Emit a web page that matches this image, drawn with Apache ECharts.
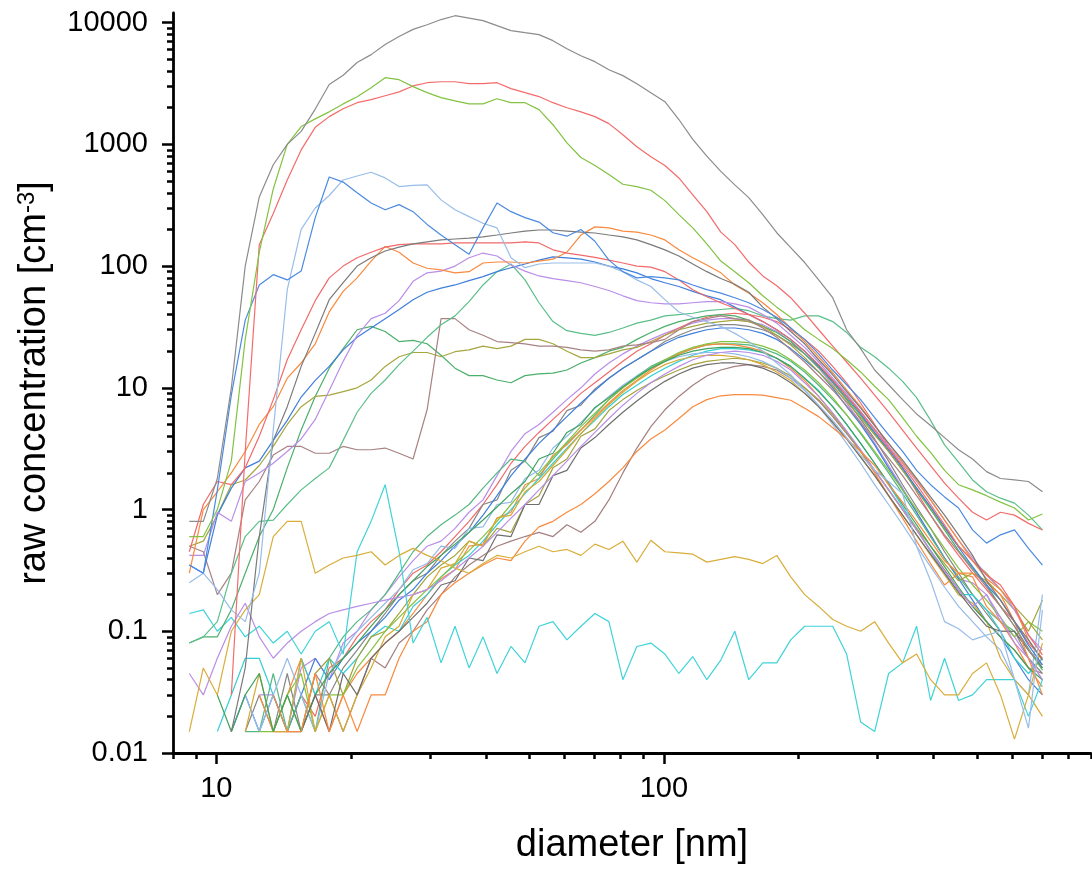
<!DOCTYPE html>
<html><head><meta charset="utf-8">
<script src="https://cdn.jsdelivr.net/npm/echarts@6/dist/echarts.min.js"></script>
<style>html,body{margin:0;padding:0;background:#fff}#c{width:1092px;height:873px}</style>
</head><body><div id="c"></div>
<script>
// diameter bins [nm]
const diameters = [8.70,9.35,10.05,10.80,11.60,12.47,13.40,14.40,15.47,16.63,17.87,19.20,20.63,22.17,23.83,25.60,27.51,29.57,31.77,34.14,36.69,39.43,42.37,45.53,48.93,52.58,56.50,60.71,65.24,70.11,75.34,80.96,87.0,93.5,100.5,108.0,116.0,124.7,134.0,144.0,154.7,166.3,178.7,192.0,206.3,221.7,238.3,256.0,275.1,295.7,317.7,341.4,366.9,394.3,423.7,455.3,489.3,525.8,565.0,607.1,652.4,701.1];
const _ = null;
const xMajorTicks = [10, 100];
const yMajorTicks = [0.01, 0.1, 1, 10, 100, 1000, 10000];

const s1 = [0.8,0.8,1.8,10,100,370,680,1000,1280,1950, 3100,3700,4700,5460,6600,7700,8800,9600,10600,11400, 10900,10400,9450,8600,8270,7970,7110,6110,5350,4780, 4100,3670,3150,2660,2240,1600,1100,800,600,465, 365,265,188,142,107,77,55,30,21,14, 10.6,8.0,6.1,4.9,3.9,3.1,2.6,2.05,1.8,1.75, 1.7,1.4];
const s2 = [0.6,0.6,1.0,2.5,25,130,430,1000,1400,1620, 1850,2150,2460,2920,3530,3400,2980,2660,2420,2280, 2150,2150,2370,2200,2200,1930,1450,1030,780,670, 565,470,450,420,345,265,206,152,110,90, 73,57,46,38,30,25,21,17,13.5,10.3, 8,5.7,4.0,2.95,2.1,1.6,1.45,1.3,1.15,1.03, 0.82,0.92];
const s3 = [_,_,_,0.03,3,150,270,510,900,1380, 1690,1960,2200,2330,2510,2700,3020,3210,3270,3270, 3150,3150,3210,2870,2660,2470,2200,2000,1850,1690, 1480,1200,955,790,670,530,385,280,190,150, 108,83,69,55,41,30,22,16.3,12,8.7, 6.3,4.5,3.2,2.3,1.65,1.24,0.95,0.82,0.95,0.9, 0.77,0.68];
const s4 = [0.35,0.3,1.45,8.7,36,70,85,77,91,250, 540,490,400,330,290,320,280,220,180,150, 125,206,330,280,250,230,188,176,200,160, 112,90,80,82,80,77,70,64,60,55, 50,44,38,31,25,19,14,10.6,8,5.7, 4.1,3.0,2.1,1.6,1.27,1.03,0.68,0.53,0.62,0.68, 0.48,0.35];
const s5 = [0.25,0.3,0.22,0.15,0.12,0.3,4.5,64,200,300, 380,510,550,590,530,450,460,465,350,290, 255,225,206,117,97,104,106,106,106,106, 100,90,77,68,53,42,38,35,32,28, 24,20,16,12.8,9.6,7.2,5.4,3.9,2.8,2.1, 1.7,1.35,0.5,0.26,0.12,0.105,0.085,0.093,0.1,0.04, 0.016,0.15];
const s6 = [_,_,_,0.015,0.05,0.6,3.7,7,15,28, 53,73,100,117,133,143,152,158,164,167, 170,174,180,187,194,198,198,194,190,187, 180,174,164,150,136,121,104,90,79,71, 61,46,37,29,23,17,12.8,9.3,6.8,4.9, 3.5,2.55,1.8,1.27,0.9,0.62,0.42,0.26,0.18,0.12, 0.085,0.058];
const s7 = [0.45,1.1,1.7,1.6,2.2,4,8,17,30,52, 80,100,117,130,143,150,152,152,152,155, 155,155,155,155,158,155,136,128,123,118, 112,106,100,98,90,77,64,56,50,45, 40,35,30,25,20,15.5,11.6,8.6,6.3,4.5, 3.2,2.3,1.6,1.1,0.75,0.5,0.38,0.29,0.24,0.16, 0.093,0.064];
const s8 = [0.3,1.0,1.4,2.0,3.0,5,7,12,16,23, 42,62,80,110,145,130,106,96,93,88, 90,106,108,108,106,110,114,130,180,210, 206,194,190,180,164,136,117,102,88,70, 60,50,40,31,24,18,13.3,9.6,7.0,4.9, 3.5,2.45,1.75,1.2,0.82,0.56,0.38,0.27,0.22,0.16, 0.085,0.058];
const s9 = [0.42,0.42,0.95,0.8,1.7,2.0,2.4,3.0,3.8,5.5, 9.5,16.5,27,37,41,52,75,88,91,100, 117,128,121,102,91,83,79,76,73,68, 63,57,52,50,49,49,50,51,51,49, 46,40,34,27,21.5,16.3,12,8.9,6.4,4.6, 3.3,2.4,1.7,1.2,0.82,0.56,0.4,0.29,0.22,0.15, 0.093,0.07];
const s10 = [0.35,0.3,0.9,1.5,2.2,2.5,3.7,5.4,8.4,11.5, 15,20.5,26,31,37,44,53,61,66,70, 76,82,90,97,104,112,119,117,114,108, 100,95,88,79,73,68,62,57,53,46, 40,35,30,25,20,15.2,11.4,8.5,6.1,4.3, 3.1,2.2,1.5,1.05,0.72,0.49,0.34,0.24,0.18,0.12, 0.077,0.053];
const s11 = [0.08,0.09,0.12,0.3,0.6,0.8,0.82,1.1,1.45,1.8, 2.2,3.7,6.3,9,11.6,15.5,20,26,33,39, 51,70,90,104,77,50,35,29.5,28,27, 28.5,31,34,36,39,40,41,43,44,45, 43,39,37,36,39,39,35,28.5,21.5,18, 14.5,11.3,8.3,5.4,3.4,2.45,1.75,1.4,1.24,1.13, 0.9,0.68];
const s12 = [0.5,0.45,0.2,0.3,1.2,1.7,2.8,3.3,3.3,2.9, 2.9,3.3,3.1,3.1,3.2,2.9,2.6,6.6,37,37, 30,27,24,23.5,23,22,22,21.5,20.5,20, 20.5,22,22.5,23.5,25,30,35,37,39,37, 36,31,26,20.5,16.3,12.5,9.6,7.1,5.2,3.7, 2.65,1.9,1.3,0.9,0.62,0.45,0.32,0.23,0.16,0.11, 0.07,0.053];
const s13 = [0.5,0.55,0.9,1.6,1.75,2.3,3.3,5,7,8.5, 8.7,9.3,10,11.6,15,18,19.5,19.5,18,19.8, 20.5,22,21,22,25,25,23,20,17.7,17.7, 19,20.5,21.5,24,27,30,32,34,35,36, 35,32,27,22.5,17.7,13.5,10.3,7.7,5.7,4.1, 3,2.1,1.5,1.03,0.7,0.5,0.38,0.3,0.22,0.16, 0.12,0.085];
const s14 = [0.08,0.09,0.09,0.15,0.3,0.6,1.0,2.2,4.5,8.5, 14.5,21,30,32,29,24,24.5,23,18.5,14.5, 12.6,12.6,11.6,11,12.6,13,13.2,14,16,17.7, 20,21.5,25,28.5,32,35,37,39,40,39, 36,32,28.5,24,19,14.7,11.2,8.2,5.9,4.2, 3,2.1,1.45,1.0,0.68,0.46,0.33,0.24,0.16,0.11, 0.072,0.048];
const s15 = [_,_,_,_,_,_,0.03,0.015,0.015,0.045, 0.015,0.03,0.015,0.03,0.03,0.06,0.1,0.12,0.2,0.25, 0.3,0.35,0.4,0.38,0.55,0.72,0.8,0.95,1.1,1.35, 1.7,2.2,3.0,3.8,4.5,5.6,7.0,8.0,8.6,8.8, 8.8,8.7,8.3,7.9,6.8,5.8,4.7,3.8,3.0,2.3, 1.6,1.15,0.8,0.55,0.38,0.3,0.3,0.25,0.2,0.12, 0.06,0.03];
const s16 = [0.14,0.15,0.1,0.13,0.09,0.11,0.08,0.1,0.065,0.1, 0.12,0.065,0.45,0.8,1.6,0.45,0.08,0.13,0.055,0.11, 0.05,0.09,0.045,0.075,0.055,0.11,0.12,0.085,0.11,0.14, 0.12,0.04,0.075,0.08,0.065,0.045,0.062,0.04,0.058,0.1, 0.04,0.055,0.055,0.085,0.11,0.11,0.11,0.065,0.018,0.015, 0.045,0.055,0.11,0.027,0.06,0.027,0.03,0.04,0.04,0.04, 0.02,0.04];
const s17 = [0.015,0.05,0.03,0.1,0.15,0.2,0.6,0.8,0.8,0.3, 0.35,0.4,0.42,0.45,0.35,0.42,0.48,0.42,0.38,0.33, 0.3,0.36,0.42,0.4,0.45,0.5,0.45,0.47,0.42,0.52, 0.47,0.55,0.37,0.56,0.45,0.44,0.43,0.37,0.39,0.41, 0.39,0.36,0.42,0.28,0.2,0.16,0.125,0.11,0.1,0.12, 0.08,0.055,0.065,0.04,0.03,0.03,0.045,0.055,0.03,0.013, 0.03,0.08];
const b1 = [_,_,_,_,_,0.03,0.03,0.015,0.05,0.06, 0.04,0.08,0.1,0.15,0.2,0.28,0.38,0.5,0.55,0.7, 0.95,1.2,1.9,3.0,4.2,5.0,6.3,8.0,10,13, 16,19,22,25,28,31,34,36,37,37, 35,33,29,24,19,14.5,10.5,7.5,5.2,3.5, 2.3,1.5,0.95,0.6,0.4,0.27,0.25,0.2,0.12,0.09, 0.06,0.04];
const b2 = [_,_,_,_,_,_,0.015,0.015,0.03,0.02, 0.05,0.06,0.09,0.12,0.15,0.22,0.3,0.35,0.45,0.6, 0.8,1.1,1.6,2.4,3.3,4.3,5.5,7.0,9.0,11, 13.5,16.5,20,23,27,31,35,38,40,41, 40,38,35,30,25,20,15,11,7.5,5, 3.3,2.2,1.4,0.9,0.6,0.42,0.3,0.22,0.16,0.12, 0.08,0.06];
const b3 = [_,_,_,_,0.015,0.03,0.015,0.045,0.015,0.03, 0.03,0.05,0.07,0.1,0.14,0.2,0.26,0.3,0.42,0.55, 0.7,1.1,1.2,2.1,2.5,3.9,4.4,6.5,7.2,9.8, 12,14.5,17,20,24,27,30,32,33,33, 32,30,27,23,19,15,11,8,5.5,3.8, 2.5,1.6,1.05,0.7,0.45,0.3,0.2,0.14,0.1,0.1, 0.06,0.045];
const b4 = [_,_,_,0.015,0.03,0.015,0.03,0.015,0.03,0.06, 0.04,0.06,0.08,0.1,0.13,0.18,0.22,0.3,0.38,0.5, 0.65,0.9,1.3,1.9,2.6,3.5,4.5,5.8,7.5,9.5, 12,14.5,17,20,23,26,28,30,31,31, 30,28,25,21,17,13.5,10,7,5,3.4, 2.2,1.45,0.95,0.62,0.4,0.27,0.18,0.12,0.09,0.06, 0.04,0.03];
const b5 = [_,_,_,_,0.015,0.015,0.045,0.015,0.03,0.015, 0.06,0.09,0.12,0.15,0.2,0.3,0.45,0.6,0.75,0.9, 1.1,1.5,2.0,2.6,2.5,1.9,2.6,3.5,4.5,6, 8,10,12.5,15,17,19,21,22.5,23,23, 22.5,21,19,16.5,13.5,10.5,8,6,4.2,2.9, 2.0,1.35,0.9,0.6,0.4,0.28,0.2,0.15,0.12,0.1, 0.07,0.05];
const b6 = [_,_,_,_,_,0.03,0.015,0.03,0.06,0.03, 0.015,0.03,0.045,0.06,0.08,0.1,0.14,0.2,0.27,0.32, 0.5,0.52,0.85,0.95,1.6,1.8,2.8,3.4,4.5,5.8, 7.5,9.5,11.5,14,16.5,19,21,22.5,23,22.5, 21.5,20,17.5,14.5,11.5,8.5,6.2,4.4,3.0,2.0, 1.3,0.85,0.55,0.36,0.24,0.3,0.28,0.16,0.12,0.08, 0.05,0.035];
const b7 = [_,_,0.015,0.03,0.06,0.06,0.03,0.015,0.06,0.03, 0.06,0.045,0.06,0.09,0.11,0.1,0.16,0.2,0.28,0.35, 0.42,0.55,0.75,1.0,1.35,1.8,2.4,3.2,4.2,5.4, 7.0,8.8,10.5,12.5,14.5,16.5,18.5,20,21,21, 20.5,19.5,17.5,15,12,9.5,7,5,3.5,2.4, 1.6,1.05,0.7,0.45,0.3,0.2,0.2,0.15,0.1,0.06, 0.045,0.06];
const b8 = [_,_,_,_,_,_,_,_,0.015,0.045, 0.03,0.015,0.03,0.06,0.05,0.08,0.1,0.15,0.2,0.28, 0.35,0.42,0.5,0.55,0.6,0.65,0.6,0.75,0.65,0.8, 1.2,2.0,3.2,4.8,6.6,8.5,10.5,12.5,14,15, 15.5,15,14,12,10,7.8,5.8,4.2,3.0,2.1, 1.45,1.0,0.68,0.46,0.32,0.22,0.16,0.12,0.09,0.07, 0.05,0.045];
const b9 = [_,_,_,_,_,_,0.015,0.03,0.015,0.045, 0.06,0.03,0.06,0.09,0.1,0.14,0.2,0.28,0.35,0.42, 0.55,0.5,0.7,0.65,1.1,1.3,2.2,2.6,4.0,4.6, 6.5,8.0,9.5,11,12.5,14,15.5,16.5,17,17.5, 17,16,14.5,12.5,10,8,6,4.3,3.0,2.1, 1.45,1.0,0.7,0.5,0.36,0.26,0.3,0.26,0.2,0.15, 0.1,0.18];
const b10 = [_,_,_,0.015,0.03,0.015,0.03,0.06,0.03,0.015, 0.045,0.07,0.1,0.13,0.17,0.22,0.32,0.36,0.5,0.48, 0.7,0.72,1.1,1.15,1.8,2.1,3.2,4.0,5.2,6.8, 8.5,10.5,12.5,14.5,16.5,18,19,19.5,19.5,19, 18,16.5,14.5,12,9.5,7,5,3.5,2.4,1.6, 1.1,0.75,0.5,0.34,0.23,0.16,0.12,0.09,0.07,0.04, 0.03,0.2];
const b11 = [_,_,_,_,_,0.015,0.015,0.03,0.045,0.015, 0.03,0.03,0.05,0.07,0.1,0.13,0.17,0.22,0.28,0.36, 0.46,0.6,0.8,1.1,1.5,2.0,2.7,3.6,4.8,6.2, 8.0,10,12,14.5,17,19.5,21.5,23,24,24, 23.5,22,20,17,14,11,8.3,6,4.3,3.0, 2.1,1.45,1.0,0.7,0.48,0.33,0.24,0.18,0.13,0.09, 0.12,0.1];
const b12 = [_,_,_,_,0.015,0.045,0.015,0.015,0.06,0.015, 0.03,0.015,0.03,0.05,0.09,0.11,0.2,0.22,0.33,0.36, 0.55,0.5,0.85,0.9,1.4,1.7,2.3,3.1,4.2,5.6, 7.3,9.2,11.3,13.5,15.5,17,18,18.5,18.5,18, 17,15.5,13.5,11.5,9,7,5.2,3.8,2.7,1.9, 1.3,0.9,0.62,0.42,0.29,0.2,0.17,0.12,0.06,0.04, 0.03,0.02];
const b13 = [_,_,0.03,0.015,0.03,0.045,0.015,0.03,0.015,0.03, 0.045,0.06,0.08,0.11,0.15,0.2,0.26,0.34,0.42,0.52, 0.65,0.82,1.05,1.35,1.7,2.6,2.9,4.3,5.0,6.9, 8.3,10.2,12.3,14.5,16.5,18.5,20,21,21.5,21.5, 21,19.5,17.5,15,12,9.3,7,5,3.5,2.4, 1.65,1.1,0.75,0.5,0.34,0.23,0.16,0.12,0.09,0.07, 0.05,0.04];
const b14 = [_,_,_,_,_,_,_,0.015,0.015,0.03, 0.015,0.045,0.03,0.06,0.08,0.1,0.13,0.17,0.24,0.26, 0.4,0.38,0.62,0.6,1.1,1.1,1.9,2.1,3.2,3.9, 5.0,6.3,7.8,9.5,11.3,13,14.5,15.5,16,16, 15.5,14.5,13,11,9,7,5.2,3.8,2.7,1.9, 1.3,0.9,0.62,0.43,0.3,0.21,0.15,0.11,0.1,0.1, 0.07,0.05];
const b15 = [0.045,0.03,0.06,0.11,0.17,0.09,0.06,0.08,0.1,0.12, 0.14,0.15,0.16,0.17,0.18,0.19,0.2,0.22,0.26,0.32, 0.4,0.5,0.65,0.85,1.1,1.45,1.9,2.5,3.3,4.3, 5.6,7.2,9,11,13,15,17,18.5,19.5,20, 19.5,18.5,16.5,14,11,8.5,6.2,4.4,3.1,2.1, 1.45,1.0,0.68,0.46,0.31,0.22,0.16,0.2,0.13,0.08, 0.06,0.04];

const lines = [
  [b1,'#b98ee8'],[b2,'#f26a6a'],[b3,'#868686'],[b4,'#3f7fdc'],[b5,'#55b884'],
  [b6,'#f98a3e'],[b7,'#35cdd4'],[b8,'#a57f7f'],[b9,'#a3a33c'],[b10,'#94bbe8'],
  [b11,'#86c23f'],[b12,'#d6aa34'],[b13,'#3fa35c'],[b14,'#6f6f6f'],[b15,'#b98ee8'],
  [s15,'#f98a3e'],[s16,'#3fd3d8'],[s17,'#d8ad3a'],
  [s14,'#4caf6a'],[s13,'#a6a63e'],[s12,'#a88282'],[s11,'#5bbf8a'],[s10,'#3f7fdc'],
  [s9,'#b98ee8'],[s8,'#f98a3e'],[s7,'#f26a6a'],[s6,'#7a7a7a'],[s5,'#98bde8'],
  [s4,'#4a8ae0'],[s3,'#f46b6b'],[s2,'#82c341'],[s1,'#8c8c8c']
];

function toPairs(vals){ const out=[]; vals.forEach((v,i)=>{ if(v!==null) out.push([diameters[i], v]); }); return out; }
function minorsFor(lo, hi){ const r=[]; for(let e=lo;e<=hi;e++){ for(let m=2;m<=9;m++){ r.push(Number((m*Math.pow(10,e)).toPrecision(3))); } } return r; }
const xMinorTicks = [8,9].concat(minorsFor(1,2));
const yMinorTicks = minorsFor(-2,3);

const FONT = 'Liberation Sans, Arial, sans-serif';
const fmt = v => String(Number(Number(v).toPrecision(6)));

const chart = echarts.init(document.getElementById('c'), null, {renderer:'canvas'});
const baseX = {type:'log', logBase:10, min:8, max:900, position:'bottom', splitLine:{show:false}};
const baseY = {type:'log', logBase:10, min:0.01, max:12000, position:'left', splitLine:{show:false}};
chart.setOption({
  animation:false,
  backgroundColor:'#fff',
  grid:{left:173, right:1, top:13, bottom:120, containLabel:false},
  xAxis:[
    Object.assign({}, baseX, {
      name:'diameter [nm]', nameLocation:'middle', nameGap:74,
      nameTextStyle:{fontFamily:FONT, fontSize:38, color:'#000'},
      axisLine:{show:true, lineStyle:{color:'#000', width:2.8}},
      axisTick:{show:true, inside:false, length:11, lineStyle:{color:'#000', width:2.5}, customValues:xMajorTicks},
      axisLabel:{show:true, customValues:xMajorTicks, formatter:fmt, fontFamily:FONT, fontSize:29, color:'#000', margin:21}
    }),
    Object.assign({}, baseX, {
      axisLine:{show:false},
      axisTick:{show:true, inside:false, length:6, lineStyle:{color:'#000', width:2.5}, customValues:xMinorTicks},
      axisLabel:{show:false}
    })
  ],
  yAxis:[
    Object.assign({}, baseY, {
      name:'raw concentration [cm{sup|-3}]', nameLocation:'middle', nameGap:118, nameRotate:90,
      nameTextStyle:{fontFamily:FONT, fontSize:38, color:'#000',
        rich:{sup:{fontFamily:FONT, fontSize:24, color:'#000', verticalAlign:'top', padding:[0,0,16,0]}}},
      axisLine:{show:true, lineStyle:{color:'#000', width:2.8}},
      axisTick:{show:true, inside:false, length:11, lineStyle:{color:'#000', width:2.5}, customValues:yMajorTicks},
      axisLabel:{show:true, customValues:yMajorTicks, formatter:fmt, fontFamily:FONT, fontSize:29, color:'#000', margin:25}
    }),
    Object.assign({}, baseY, {
      axisLine:{show:false},
      axisTick:{show:true, inside:false, length:6, lineStyle:{color:'#000', width:2.5}, customValues:yMinorTicks},
      axisLabel:{show:false}
    })
  ],
  series: lines.map(([vals,color]) => ({
    type:'line', xAxisIndex:0, yAxisIndex:0, data:toPairs(vals),
    showSymbol:false, symbol:'none', silent:true, connectNulls:false,
    lineStyle:{color:color, width:1.2}, itemStyle:{color:color}
  }))
});
</script>
</body></html>
